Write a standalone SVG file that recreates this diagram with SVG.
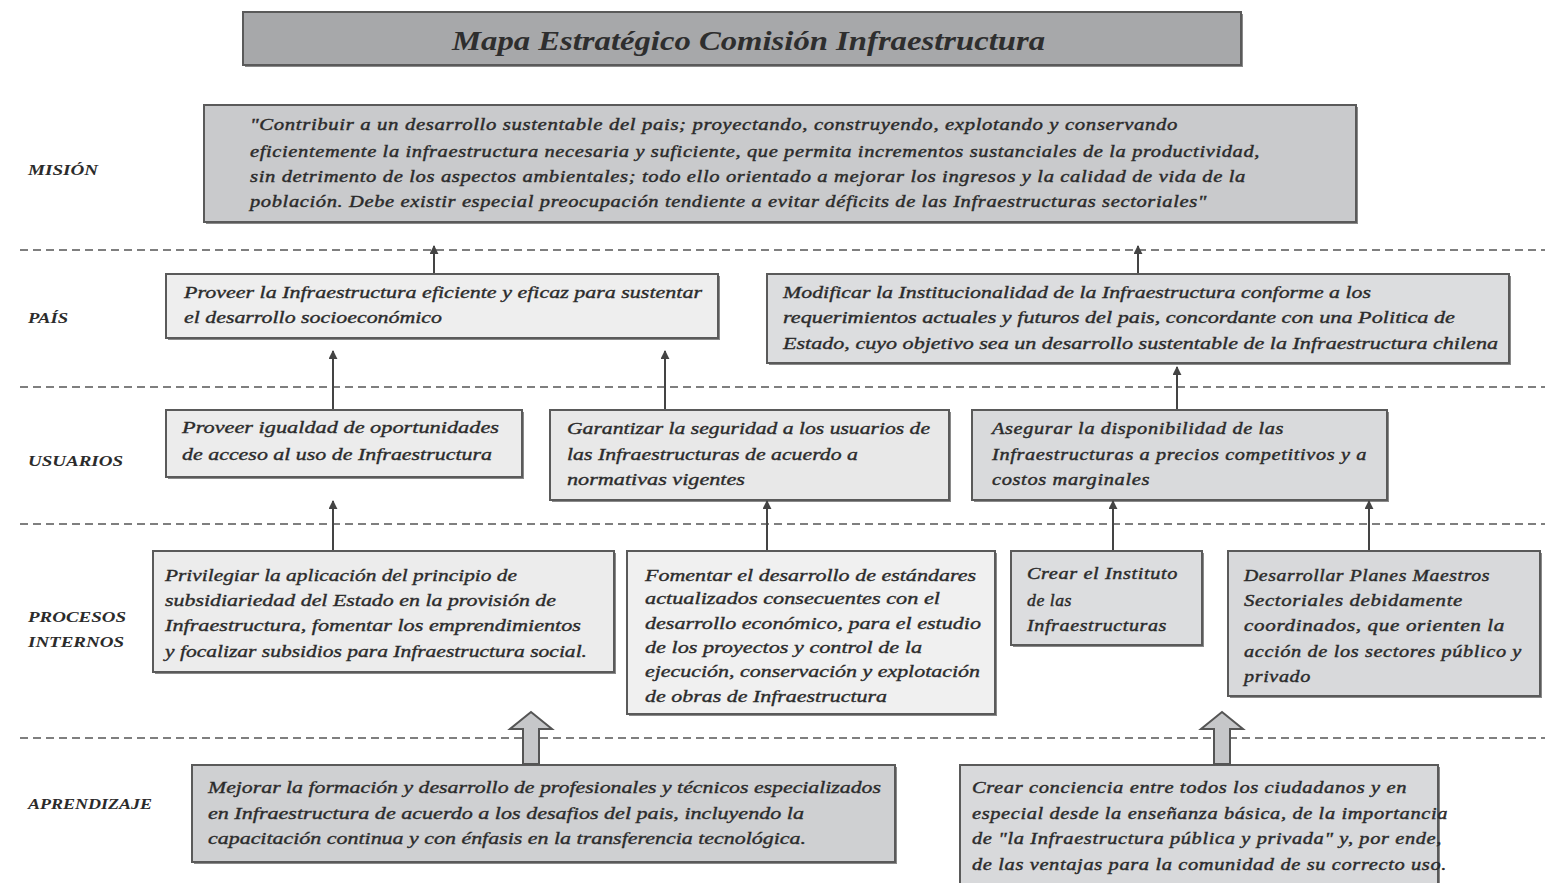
<svg xmlns="http://www.w3.org/2000/svg" width="1545" height="883" viewBox="0 0 1545 883">
<style>
.bg{fill:#ffffff}
.box{stroke:#5a5a5a;stroke-width:2}
.sh{fill:#8a8a8a}
.t{font-family:"Liberation Serif","Times New Roman",serif;font-style:italic;font-size:17px;fill:#2b2b2b;stroke:#2b2b2b;stroke-width:0.35}
.tw{font-family:"Liberation Serif","Times New Roman",serif;font-style:italic;font-size:16px;fill:#2b2b2b;stroke:#2b2b2b;stroke-width:0.4;letter-spacing:0.5px}
.lbl{font-family:"Liberation Serif","Times New Roman",serif;font-style:italic;font-weight:bold;font-size:15px;fill:#2b2b2b}
.title{font-family:"Liberation Serif","Times New Roman",serif;font-style:italic;font-weight:bold;font-size:28px;fill:#2e2e2e}
.dash{stroke:#555;stroke-width:1.6;stroke-dasharray:8 5;fill:none}
.conn{stroke:#444;stroke-width:2;fill:none}
.hollow{fill:#c6c7c9;stroke:#555;stroke-width:2}
</style>
<defs>
<marker id="ah" viewBox="0 0 10 10" refX="9" refY="5" markerWidth="9" markerHeight="9" markerUnits="userSpaceOnUse" orient="auto">
<path d="M0,0 L10,5 L0,10 z" fill="#444"/>
</marker>
</defs>
<rect class="bg" x="0" y="0" width="1545" height="883"/>

<g id="separators">
<line class="dash" x1="20" y1="250" x2="1545" y2="250"/>
<line class="dash" x1="20" y1="387" x2="1545" y2="387"/>
<line class="dash" x1="20" y1="524" x2="1545" y2="524"/>
<line class="dash" x1="20" y1="738" x2="1545" y2="738"/>
</g>

<g id="labels">
<text class="lbl" x="28" y="175" textLength="70" lengthAdjust="spacingAndGlyphs">MISIÓN</text>
<text class="lbl" x="28" y="323" textLength="40" lengthAdjust="spacingAndGlyphs">PAÍS</text>
<text class="lbl" x="28" y="466" textLength="95" lengthAdjust="spacingAndGlyphs">USUARIOS</text>
<text class="lbl" x="28" y="622" textLength="98" lengthAdjust="spacingAndGlyphs">PROCESOS</text>
<text class="lbl" x="28" y="647" textLength="96" lengthAdjust="spacingAndGlyphs">INTERNOS</text>
<text class="lbl" x="28" y="809" textLength="124" lengthAdjust="spacingAndGlyphs">APRENDIZAJE</text>
</g>

<g id="title">
<rect class="sh" x="245" y="14" width="998" height="53"/>
<rect class="box" x="243" y="12" width="998" height="53" fill="#a7a8aa"/>
<text class="title" x="452" y="50" textLength="593" lengthAdjust="spacingAndGlyphs">Mapa Estratégico  Comisión Infraestructura</text>
</g>

<g id="mision">
<rect class="sh" x="206" y="107" width="1152" height="117"/>
<rect class="box" x="204" y="105" width="1152" height="117" fill="#c9cacc"/>
<text class="tw" x="250" y="130" textLength="928" lengthAdjust="spacingAndGlyphs">"Contribuir a un  desarrollo sustentable  del  pais;  proyectando,  construyendo,  explotando  y  conservando</text>
<text class="tw" x="250" y="157" textLength="1010" lengthAdjust="spacingAndGlyphs">eficientemente la infraestructura necesaria y suficiente,  que  permita  incrementos  sustanciales de  la productividad,</text>
<text class="tw" x="250" y="182" textLength="996" lengthAdjust="spacingAndGlyphs">sin  detrimento  de  los  aspectos ambientales; todo  ello  orientado a mejorar los ingresos y la calidad de  vida  de  la</text>
<text class="tw" x="250" y="207" textLength="957" lengthAdjust="spacingAndGlyphs">población.  Debe existir especial preocupación  tendiente a evitar  déficits  de  las  Infraestructuras  sectoriales"</text>
</g>

<g id="pais1">
<rect class="sh" x="168" y="276" width="552" height="64"/>
<rect class="box" x="166" y="274" width="552" height="64" fill="#eeeeee"/>
<text class="t" x="184" y="298" textLength="518" lengthAdjust="spacingAndGlyphs">Proveer la Infraestructura eficiente  y eficaz para  sustentar</text>
<text class="t" x="184" y="323" textLength="258" lengthAdjust="spacingAndGlyphs">el desarrollo socioeconómico</text>
</g>

<g id="pais2">
<rect class="sh" x="769" y="276" width="742" height="89"/>
<rect class="box" x="767" y="274" width="742" height="89" fill="#dcdddf"/>
<text class="t" x="783" y="298" textLength="588" lengthAdjust="spacingAndGlyphs">Modificar la Institucionalidad de  la Infraestructura conforme  a los</text>
<text class="t" x="783" y="323" textLength="672" lengthAdjust="spacingAndGlyphs">requerimientos  actuales y futuros del  pais,  concordante con  una  Politica  de</text>
<text class="t" x="783" y="349" textLength="715" lengthAdjust="spacingAndGlyphs">Estado, cuyo objetivo  sea  un  desarrollo sustentable  de  la Infraestructura chilena</text>
</g>

<g id="usuarios1">
<rect class="sh" x="168" y="412" width="356" height="67"/>
<rect class="box" x="166" y="410" width="356" height="67" fill="#ececec"/>
<text class="t" x="182" y="433" textLength="317" lengthAdjust="spacingAndGlyphs">Proveer igualdad  de  oportunidades</text>
<text class="t" x="182" y="460" textLength="310" lengthAdjust="spacingAndGlyphs">de  acceso al uso  de  Infraestructura</text>
</g>

<g id="usuarios2">
<rect class="sh" x="552" y="412" width="399" height="90"/>
<rect class="box" x="550" y="410" width="399" height="90" fill="#e8e8e8"/>
<text class="t" x="567" y="434" textLength="363" lengthAdjust="spacingAndGlyphs">Garantizar la seguridad a los usuarios de</text>
<text class="t" x="567" y="460" textLength="291" lengthAdjust="spacingAndGlyphs">las Infraestructuras de  acuerdo  a</text>
<text class="t" x="567" y="485" textLength="178" lengthAdjust="spacingAndGlyphs">normativas vigentes</text>
</g>

<g id="usuarios3">
<rect class="sh" x="974" y="412" width="415" height="90"/>
<rect class="box" x="972" y="410" width="415" height="90" fill="#d9dadc"/>
<text class="tw" x="992" y="434" textLength="292" lengthAdjust="spacingAndGlyphs">Asegurar la disponibilidad de  las</text>
<text class="tw" x="992" y="460" textLength="375" lengthAdjust="spacingAndGlyphs">Infraestructuras a precios competitivos  y a</text>
<text class="tw" x="992" y="485" textLength="158" lengthAdjust="spacingAndGlyphs">costos marginales</text>
</g>

<g id="procesos1">
<rect class="sh" x="155" y="553" width="461" height="121"/>
<rect class="box" x="153" y="551" width="461" height="121" fill="#ececec"/>
<text class="t" x="165" y="581" textLength="352" lengthAdjust="spacingAndGlyphs">Privilegiar la aplicación del  principio de</text>
<text class="t" x="165" y="606" textLength="391" lengthAdjust="spacingAndGlyphs">subsidiariedad del  Estado en  la provisión de</text>
<text class="t" x="165" y="631" textLength="416" lengthAdjust="spacingAndGlyphs">Infraestructura, fomentar  los  emprendimientos</text>
<text class="t" x="165" y="657" textLength="422" lengthAdjust="spacingAndGlyphs">y focalizar subsidios para  Infraestructura  social.</text>
</g>

<g id="procesos2">
<rect class="sh" x="629" y="553" width="368" height="163"/>
<rect class="box" x="627" y="551" width="368" height="163" fill="#f0f0f0"/>
<text class="t" x="645" y="581" textLength="331" lengthAdjust="spacingAndGlyphs">Fomentar el desarrollo de  estándares</text>
<text class="t" x="645" y="604" textLength="295" lengthAdjust="spacingAndGlyphs">actualizados consecuentes con  el</text>
<text class="t" x="645" y="629" textLength="336" lengthAdjust="spacingAndGlyphs">desarrollo económico,  para  el estudio</text>
<text class="t" x="645" y="653" textLength="277" lengthAdjust="spacingAndGlyphs">de  los  proyectos y control de  la</text>
<text class="t" x="645" y="677" textLength="335" lengthAdjust="spacingAndGlyphs">ejecución,  conservación y explotación</text>
<text class="t" x="645" y="702" textLength="242" lengthAdjust="spacingAndGlyphs">de  obras  de  Infraestructura</text>
</g>

<g id="procesos3">
<rect class="sh" x="1013" y="553" width="191" height="94"/>
<rect class="box" x="1011" y="551" width="191" height="94" fill="#dcdddf"/>
<text class="tw" x="1027" y="579" textLength="151" lengthAdjust="spacingAndGlyphs">Crear  el  Instituto</text>
<text class="tw" x="1027" y="606" textLength="45" lengthAdjust="spacingAndGlyphs">de  las</text>
<text class="tw" x="1027" y="631" textLength="140" lengthAdjust="spacingAndGlyphs">Infraestructuras</text>
</g>

<g id="procesos4">
<rect class="sh" x="1230" y="553" width="312" height="145"/>
<rect class="box" x="1228" y="551" width="312" height="145" fill="#d8d9db"/>
<text class="tw" x="1244" y="581" textLength="246" lengthAdjust="spacingAndGlyphs">Desarrollar Planes  Maestros</text>
<text class="tw" x="1244" y="606" textLength="219" lengthAdjust="spacingAndGlyphs">Sectoriales debidamente</text>
<text class="tw" x="1244" y="631" textLength="261" lengthAdjust="spacingAndGlyphs">coordinados, que  orienten  la</text>
<text class="tw" x="1244" y="657" textLength="278" lengthAdjust="spacingAndGlyphs">acción  de  los  sectores público y</text>
<text class="tw" x="1244" y="682" textLength="67" lengthAdjust="spacingAndGlyphs">privado</text>
</g>

<g id="aprendizaje1">
<rect class="sh" x="194" y="767" width="703" height="97"/>
<rect class="box" x="192" y="765" width="703" height="97" fill="#cfd0d2"/>
<text class="t" x="208" y="793" textLength="673" lengthAdjust="spacingAndGlyphs">Mejorar la formación y desarrollo de  profesionales  y técnicos especializados</text>
<text class="t" x="208" y="819" textLength="596" lengthAdjust="spacingAndGlyphs">en  Infraestructura de  acuerdo a los desafios del  pais,  incluyendo  la</text>
<text class="t" x="208" y="844" textLength="598" lengthAdjust="spacingAndGlyphs">capacitación continua  y con  énfasis en  la transferencia tecnológica.</text>
</g>

<g id="aprendizaje2">
<rect class="sh" x="962" y="767" width="478" height="120"/>
<rect class="box" x="960" y="765" width="478" height="120" fill="#d8d9db"/>
<text class="tw" x="972" y="793" textLength="435" lengthAdjust="spacingAndGlyphs">Crear  conciencia entre  todos  los  ciudadanos y en</text>
<text class="tw" x="972" y="819" textLength="476" lengthAdjust="spacingAndGlyphs">especial desde  la enseñanza básica,  de  la importancia</text>
<text class="tw" x="972" y="844" textLength="470" lengthAdjust="spacingAndGlyphs">de  "la Infraestructura pública y privada" y, por  ende,</text>
<text class="tw" x="972" y="870" textLength="475" lengthAdjust="spacingAndGlyphs">de  las ventajas para  la comunidad de  su  correcto uso.</text>
</g>

<g id="connectors">
<line class="conn" x1="434" y1="273" x2="434" y2="246" marker-end="url(#ah)"/>
<line class="conn" x1="1138" y1="273" x2="1138" y2="246" marker-end="url(#ah)"/>
<line class="conn" x1="333" y1="409" x2="333" y2="351" marker-end="url(#ah)"/>
<line class="conn" x1="665" y1="409" x2="665" y2="351" marker-end="url(#ah)"/>
<line class="conn" x1="1177" y1="409" x2="1177" y2="367" marker-end="url(#ah)"/>
<line class="conn" x1="333" y1="550" x2="333" y2="501" marker-end="url(#ah)"/>
<line class="conn" x1="767" y1="550" x2="767" y2="501" marker-end="url(#ah)"/>
<line class="conn" x1="1113" y1="550" x2="1113" y2="501" marker-end="url(#ah)"/>
<line class="conn" x1="1369" y1="550" x2="1369" y2="501" marker-end="url(#ah)"/>
<polygon class="hollow" points="531,712 552,729 539,729 539,764 523,764 523,729 510,729"/>
<polygon class="hollow" points="1222,712 1243,729 1230,729 1230,764 1214,764 1214,729 1201,729"/>
</g>
</svg>
